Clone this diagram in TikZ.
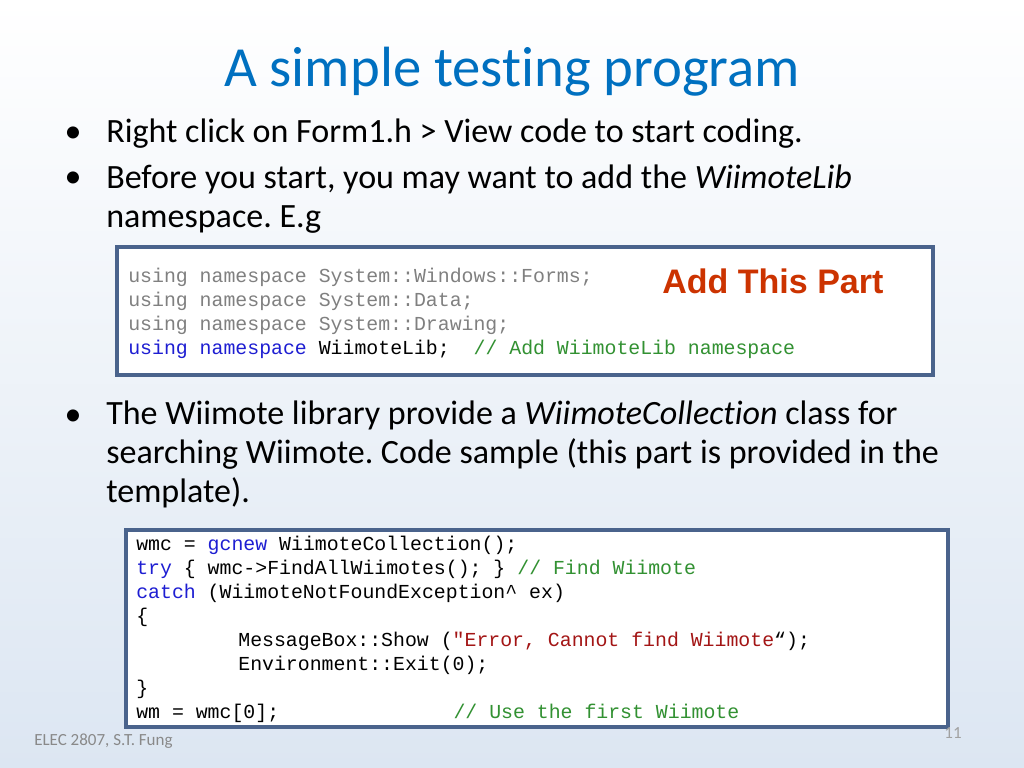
\documentclass[tikz,border=0pt]{standalone}
\usepackage{fontspec}
\setmainfont{Carlito}[Ligatures={TeX,NoCommon}]
\setmonofont{Liberation Mono}
\newfontfamily\arialfont{Liberation Sans}
\frenchspacing

\definecolor{titleblue}{RGB}{0,112,192}
\definecolor{bgblue}{RGB}{220,230,242}
\definecolor{boxblue}{RGB}{74,99,140}
\definecolor{codegray}{RGB}{128,128,128}
\definecolor{kwblue}{RGB}{30,30,210}
\definecolor{cmtgreen}{RGB}{50,145,50}
\definecolor{strred}{RGB}{163,21,21}
\definecolor{addred}{RGB}{204,51,0}
\definecolor{footgray}{RGB}{137,137,137}

\begin{document}
\begin{tikzpicture}[x=0.0248cm,y=-0.0248cm,
    bodytext/.style={anchor=base west,align=left,inner sep=0pt,
        font=\fontsize{24}{27.4}\selectfont},
    dot/.style={anchor=base,inner sep=0pt,font=\fontsize{24}{27.4}\selectfont},
    codetext/.style={anchor=base west,align=left,inner sep=0pt,
        font=\fontsize{14}{16.9}\ttfamily\frenchspacing},
    codebox/.style={draw=boxblue,line width=2.2pt,fill=white}]
    \useasboundingbox (0,0) rectangle (1024,768);
    \shade[top color=white,bottom color=bgblue] (0,0) rectangle (1024,768);

    % I (multi-line nodes sit on their last baseline)
    \draw(512,87) node[anchor=base,inner sep=0pt,text=titleblue,
        font=\fontsize{40}{48}\selectfont](title){A simple testing program};

    \draw(73,143) node[dot](dotA){•};
    \draw(106,143) node[bodytext](bulletA){Right click on Form1.h > View code to start coding.};
    \draw(73,188) node[dot](dotB){•};
    \draw(106,227) node[bodytext](bulletB){Before you start, you may want to add the \textit{WiimoteLib}\\namespace. E.g};

    % II
    \draw[codebox] (117,247) rectangle (933,375);
    \draw(128,354) node[codetext](codeA){%
        \textcolor{codegray}{using namespace System::Windows::Forms;}\\
        \textcolor{codegray}{using namespace System::Data;}\\
        \textcolor{codegray}{using namespace System::Drawing;}\\
        \textcolor{kwblue}{using namespace} WiimoteLib;\ \ \textcolor{cmtgreen}{// Add WiimoteLib namespace}};
    \draw(662,293) node[anchor=base west,inner sep=0pt,text=addred,
        font=\arialfont\bfseries\fontsize{24}{28}\selectfont](addpart){Add This Part};

    % III
    \draw(73,425) node[dot](dotC){•};
    \draw(106,502) node[bodytext](bulletC){The Wiimote library provide a \textit{WiimoteCollection} class for\\searching Wiimote. Code sample (this part is provided in the\\template).};

    \draw[codebox] (126,530) rectangle (948,727);
    \draw(136,718) node[codetext](codeB){%
        wmc = \textcolor{kwblue}{gcnew} WiimoteCollection();\\
        \textcolor{kwblue}{try} \{ wmc->FindAllWiimotes(); \} \textcolor{cmtgreen}{// Find Wiimote}\\
        \textcolor{kwblue}{catch} (WiimoteNotFoundException\textasciicircum{} ex)\\
        \{\\
        \hspace*{72pt}MessageBox::Show (\textcolor{strred}{"Error, Cannot find Wiimote}“);\\
        \hspace*{72pt}Environment::Exit(0);\\
        \}\\
        wm = wmc[0];\hspace*{123pt}\textcolor{cmtgreen}{// Use the first Wiimote}};

    % footer
    \draw(34,745) node[anchor=base west,inner sep=0pt,text=footgray,
        font=\fontsize{12}{14}\selectfont](footer){ELEC 2807, S.T. Fung};
    \draw(953,738) node[anchor=base,inner sep=0pt,text=footgray!80,
        font=\fontsize{12}{14}\selectfont](pagenum){11};
\end{tikzpicture}
\end{document}
